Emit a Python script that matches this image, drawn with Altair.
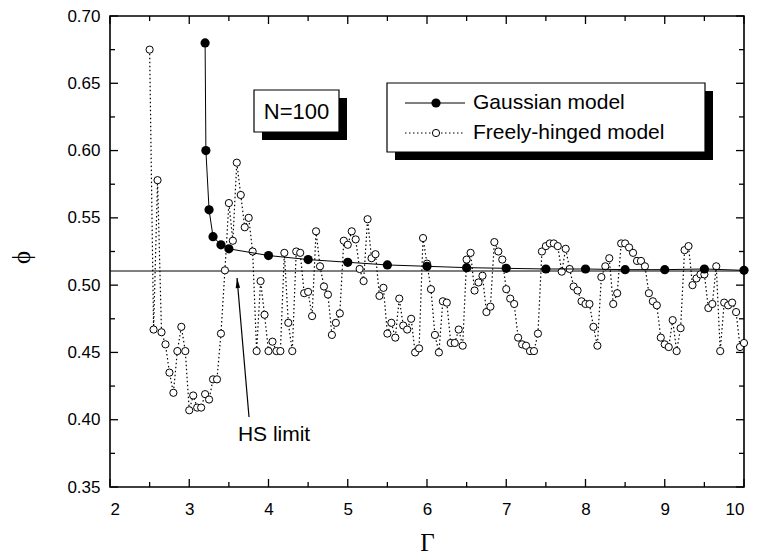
import altair as alt
import pandas as pd

# ---------------- data ----------------
gauss_gamma = [3.2, 3.21, 3.25, 3.3, 3.4, 3.5, 4.0, 4.5, 5.0, 5.5, 6.0, 6.5,
               7.0, 7.5, 8.0, 8.5, 9.0, 9.5, 10.0]
gauss_phi = [0.680, 0.600, 0.556, 0.536, 0.530, 0.527, 0.522, 0.519, 0.517,
             0.515, 0.514, 0.513, 0.5125, 0.512, 0.512, 0.5115, 0.5115, 0.512, 0.511]

fh_gamma = [2.50, 2.55, 2.60, 2.65, 2.70, 2.75, 2.80, 2.85, 2.90, 2.95,
            3.00, 3.05, 3.10, 3.15, 3.20, 3.25, 3.30, 3.35, 3.40, 3.45,
            3.50, 3.55, 3.60, 3.65, 3.70, 3.75, 3.80, 3.85, 3.90, 3.95,
            4.00, 4.05, 4.10, 4.15, 4.20, 4.25, 4.30, 4.35, 4.40, 4.45,
            4.50, 4.55, 4.60, 4.65, 4.70, 4.75, 4.80, 4.85, 4.90, 4.95,
            5.00, 5.05, 5.10, 5.15, 5.20, 5.25, 5.30, 5.35, 5.40, 5.45,
            5.50, 5.55, 5.60, 5.65, 5.70, 5.75, 5.80, 5.85, 5.90, 5.95,
            6.00, 6.05, 6.10, 6.15, 6.20, 6.25, 6.30, 6.35, 6.40, 6.45,
            6.50, 6.55, 6.60, 6.65, 6.70, 6.75, 6.80, 6.85, 6.90, 6.95,
            7.00, 7.05, 7.10, 7.15, 7.20, 7.25, 7.30, 7.35, 7.40, 7.45,
            7.50, 7.55, 7.60, 7.65, 7.70, 7.75, 7.80, 7.85, 7.90, 7.95,
            8.00, 8.05, 8.10, 8.15, 8.20, 8.25, 8.30, 8.35, 8.40, 8.45,
            8.50, 8.55, 8.60, 8.65, 8.70, 8.75, 8.80, 8.85, 8.90, 8.95,
            9.00, 9.05, 9.10, 9.15, 9.20, 9.25, 9.30, 9.35, 9.40, 9.45,
            9.50, 9.55, 9.60, 9.65, 9.70, 9.75, 9.80, 9.85, 9.90, 9.95,
            10.00]
fh_phi = [0.675, 0.467, 0.578, 0.465, 0.456, 0.435, 0.420, 0.451, 0.469, 0.451,
          0.407, 0.418, 0.409, 0.409, 0.419, 0.415, 0.430, 0.430, 0.464, 0.511,
          0.561, 0.533, 0.591, 0.567, 0.543, 0.550, 0.525, 0.451, 0.503, 0.478,
          0.451, 0.458, 0.451, 0.451, 0.524, 0.472, 0.451, 0.525, 0.524, 0.494,
          0.495, 0.477, 0.540, 0.514, 0.499, 0.493, 0.463, 0.472, 0.479, 0.533,
          0.530, 0.540, 0.534, 0.512, 0.503, 0.549, 0.520, 0.523, 0.492, 0.498,
          0.464, 0.472, 0.461, 0.490, 0.470, 0.467, 0.475, 0.450, 0.453, 0.535,
          0.516, 0.497, 0.463, 0.450, 0.488, 0.487, 0.457, 0.457, 0.467, 0.455,
          0.519, 0.524, 0.496, 0.502, 0.507, 0.480, 0.484, 0.532, 0.525, 0.519,
          0.497, 0.490, 0.486, 0.461, 0.456, 0.455, 0.451, 0.451, 0.464, 0.525,
          0.529, 0.531, 0.531, 0.529, 0.510, 0.527, 0.512, 0.499, 0.496, 0.488,
          0.486, 0.486, 0.469, 0.455, 0.506, 0.514, 0.520, 0.486, 0.494, 0.531,
          0.531, 0.528, 0.524, 0.518, 0.518, 0.514, 0.494, 0.488, 0.485, 0.461,
          0.456, 0.454, 0.474, 0.451, 0.468, 0.526, 0.529, 0.500, 0.505, 0.508,
          0.508, 0.483, 0.486, 0.514, 0.451, 0.487, 0.485, 0.487, 0.480, 0.454,
          0.457]

hs_limit = 0.5105
x_major = [2, 3, 4, 5, 6, 7, 8, 9, 10]
x_minor = [2.5, 3.5, 4.5, 5.5, 6.5, 7.5, 8.5, 9.5]
y_major = [0.35, 0.40, 0.45, 0.50, 0.55, 0.60, 0.65, 0.70]
y_minor = [0.375, 0.425, 0.475, 0.525, 0.575, 0.625, 0.675]

# arrow (tail -> tip) and label, in data units
arrow_gamma = [3.754, 3.603]
arrow_phi = [0.402, 0.5053]
label_gamma = 4.07
label_phi = 0.3887

W, H = 634, 471
SANS = "Liberation Sans"
SERIF = "Liberation Serif"

xs = alt.Scale(domain=[2, 10], nice=False, zero=False)
ys = alt.Scale(domain=[0.35, 0.70], nice=False, zero=False)

x_axis = alt.Axis(values=x_major, format="d", title="Γ", labelFontSize=17, labelFont=SANS,
                  labelPadding=14, ticks=False, domain=False, grid=False,
                  titleFont=SERIF, titleFontSize=25, titleFontWeight="normal",
                  titleY=63, titleBaseline="alphabetic", labelColor="black", titleColor="black")
y_axis = alt.Axis(values=y_major, format=".2f", title="ϕ", labelFontSize=17, labelFont=SANS,
                  labelPadding=10, ticks=False, domain=False, grid=False,
                  titleFont=SERIF, titleFontSize=25, titleFontWeight="normal",
                  titleX=-89, titleY=241, titleAlign="center", titleBaseline="middle",
                  titleAngle=270, labelColor="black", titleColor="black")


def X(f):
    return alt.X(f, scale=xs, axis=x_axis)


def Y(f):
    return alt.Y(f, scale=ys, axis=y_axis)


gauss = pd.DataFrame({"g": gauss_gamma, "p": gauss_phi})
fh = pd.DataFrame({"g": fh_gamma, "p": fh_phi})
one = pd.DataFrame({"a": [0]})

fh_line = alt.Chart(fh).mark_line(color="black", strokeWidth=1.2, strokeDash=[1.5, 2.5]).encode(
    x=X("g:Q"), y=Y("p:Q"))
fh_pts = alt.Chart(fh).mark_point(shape="circle", filled=True, fill="white", stroke="black",
                                  strokeWidth=1, size=52, opacity=1).encode(x=X("g:Q"), y=Y("p:Q"))
g_line = alt.Chart(gauss).mark_line(color="black", strokeWidth=1).encode(x=X("g:Q"), y=Y("p:Q"))
g_pts = alt.Chart(gauss).mark_point(shape="circle", filled=True, color="black", size=85,
                                    opacity=1).encode(x=X("g:Q"), y=Y("p:Q"))

hs_line = alt.Chart(pd.DataFrame({"p": [hs_limit]})).mark_rule(color="black", strokeWidth=1).encode(
    y=Y("p:Q"), x=alt.value(0), x2=alt.value(W))


# ---------------- inward ticks ----------------
def yticks(vals, length, right=False):
    df = pd.DataFrame({"p": vals})
    x0, x1 = (W - length, W) if right else (0, length)
    return alt.Chart(df).mark_rule(color="black", strokeWidth=1.3).encode(
        y=Y("p:Q"), x=alt.value(x0), x2=alt.value(x1))


def xticks(vals, length, top=False):
    df = pd.DataFrame({"g": vals})
    y0, y1 = (0, length) if top else (H - length, H)
    return alt.Chart(df).mark_rule(color="black", strokeWidth=1.3).encode(
        x=X("g:Q"), y=alt.value(y0), y2=alt.value(y1))


ticks = [yticks(y_major, 8), yticks(y_minor, 5), yticks(y_major, 8, True), yticks(y_minor, 5, True),
         xticks(x_major, 8), xticks(x_minor, 5), xticks(x_major, 8, True), xticks(x_minor, 5, True)]

# ---------------- HS limit arrow + label ----------------
arrow_df = pd.DataFrame({"g": [arrow_gamma[0]], "p": [arrow_phi[0]],
                         "g2": [arrow_gamma[1]], "p2": [arrow_phi[1]]})
arrow_line = alt.Chart(arrow_df).mark_rule(color="black", strokeWidth=1.2).encode(
    x=X("g:Q"), y=Y("p:Q"), x2="g2:Q", y2="p2:Q")
arrow_head = alt.Chart(pd.DataFrame({"g": [arrow_gamma[1]], "p": [arrow_phi[1]]})).mark_point(
    shape="M0,0 L-0.45,2 L0.45,2 Z", filled=True, color="black", size=100, angle=355,
    opacity=1).encode(x=X("g:Q"), y=Y("p:Q"))
hs_text = alt.Chart(pd.DataFrame({"g": [label_gamma], "p": [label_phi], "t": ["HS limit"]})).mark_text(
    font=SANS, fontSize=21, color="black", align="center", baseline="middle").encode(
    x=X("g:Q"), y=Y("p:Q"), text="t:N")


# ---------------- N=100 box ----------------
def rect(x0, y0, x1, y1, fill, stroke=None):
    kw = dict(fill=fill, opacity=1)
    if stroke:
        kw.update(stroke=stroke, strokeWidth=1.2)
    return alt.Chart(one).mark_rect(**kw).encode(
        x=alt.value(x0), x2=alt.value(x1), y=alt.value(y0), y2=alt.value(y1))


n_shadow = rect(152, 82, 237, 124, "black")
n_box = rect(144, 74, 229, 116, "white", "black")
n_text = alt.Chart(one).mark_text(font=SANS, fontSize=22, color="black", align="center",
                                  baseline="middle", text="N=100").encode(
    x=alt.value(186.5), y=alt.value(96))

# ---------------- legend ----------------
leg_shadow = rect(285, 75, 603, 144, "black")
leg_box = rect(277, 67, 595, 136, "white", "black")
leg_l1 = alt.Chart(one).mark_rule(color="black", strokeWidth=1).encode(
    x=alt.value(295), x2=alt.value(355), y=alt.value(87))
leg_p1 = alt.Chart(one).mark_point(shape="circle", filled=True, color="black", size=85,
                                   opacity=1).encode(x=alt.value(326), y=alt.value(87))
leg_l2 = alt.Chart(one).mark_rule(color="black", strokeWidth=1.2, strokeDash=[1.5, 2.5]).encode(
    x=alt.value(295), x2=alt.value(355), y=alt.value(117))
leg_p2 = alt.Chart(one).mark_point(shape="circle", filled=True, fill="white", stroke="black",
                                   strokeWidth=1, size=52, opacity=1).encode(
    x=alt.value(326), y=alt.value(117))
leg_t1 = alt.Chart(one).mark_text(font=SANS, fontSize=21, color="black", align="left",
                                  baseline="middle", text="Gaussian model").encode(
    x=alt.value(363), y=alt.value(87))
leg_t2 = alt.Chart(one).mark_text(font=SANS, fontSize=21, color="black", align="left",
                                  baseline="middle", text="Freely-hinged model").encode(
    x=alt.value(363), y=alt.value(117))

chart = alt.layer(
    fh_line, *ticks, hs_line, fh_pts, g_line, g_pts,
    arrow_line, arrow_head, hs_text,
    n_shadow, n_box, n_text,
    leg_shadow, leg_box, leg_l1, leg_p1, leg_l2, leg_p2, leg_t1, leg_t2,
).properties(
    width=W, height=H,
    autosize=alt.AutoSizeParams(type="none"),
    padding={"left": 110, "top": 16, "right": 14, "bottom": 70},
    background="white",
).configure_view(
    stroke="black", strokeWidth=1.6, fill="white"
)

chart.save("out.html", embed_options={"renderer": "svg", "actions": False})
